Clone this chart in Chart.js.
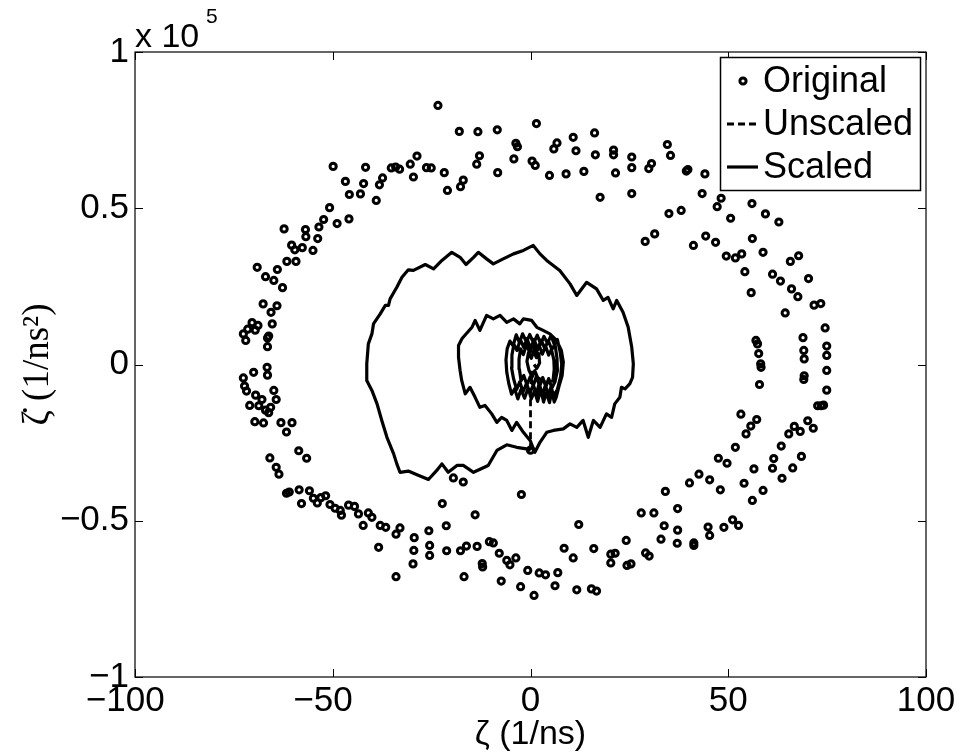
<!DOCTYPE html>
<html>
<head>
<meta charset="utf-8">
<title>Phase portrait</title>
<script src="https://cdn.jsdelivr.net/npm/chart.js@4.4.1/dist/chart.umd.min.js"></script>
<style>
  html, body { margin: 0; padding: 0; background: #fff; }
  #wrap { width: 959px; height: 756px; }
</style>
</head>
<body>
<div id="wrap"><canvas id="phase" width="959" height="756"></canvas></div>
<script>
// Sampled points: zeta (1/ns) against its rate (1/ns^2)
var origZeta = [
  -49.9, -41.7, -46.8, -42.2, -45.8, -43.0, -39.0, -38.2, -37.4, -35.2,
  -34.1, -33.1, -30.4, -28.7, -29.6, -26.3, -25.1, -50.8, -52.3, -48.9,
  -45.9, -53.5, -56.9, -62.3, -56.8, -53.8, -60.4, -59.6, -57.7, -55.0,
  -61.6, -59.3, -69.1, -64.0, -67.0, -64.9, -62.7, -67.6, -64.1, -65.6,
  -70.4, -68.9, -65.3, -72.6, -71.5, -69.6, -72.0, -66.2, -66.5, -66.5,
  -66.6, -66.5, -70.0, -72.6, -72.3, -71.8, -69.5, -67.9, -64.9, -64.3,
  -71.0, -68.7, -67.0, -66.2, -65.7, -69.7, -67.5, -63.1, -60.3, -61.7,
  -58.6, -56.6, -65.9, -64.3, -63.6, -61.7, -61.0, -58.5, -57.9, -55.9,
  -54.9, -53.9, -53.0, -51.8, -50.7, -49.4, -48.1, -47.8, -46.0, -44.5,
  -43.5, -41.0, -40.1, -42.3, -38.0, -36.6, -34.0, -33.0, -38.4, -29.4,
  -29.5, -29.7, -34.0, -25.7, -25.5, -25.5, -22.3, -21.3, -21.2, -17.7,
  -16.2, -16.8, -14.0, -19.5, -17.0, -13.5, -12.2, -12.1, -10.4, -9.4,
  -7.9, -6.0, -5.2, -3.7, -7.4, -0.7, 2.2, 3.8, 6.9, -2.5,
  0.9, 6.2, 11.7, 15.4, 16.7, 8.5, 10.8, 16.0, 24.2, 20.3,
  21.4, 20.3, 24.4, 25.4, -2.3, 12.2, 0.0, 28.0, 31.2, 29.1,
  30.0, 34.1, 37.2, 33.8, 37.2, 33.0, 37.1, 41.3, 41.3, 44.9,
  45.3, 48.9, 51.1, 52.6, 40.2, 42.6, 45.3, 48.0, 47.5, 49.7,
  51.8, 53.2, 54.5, 55.7, 57.2, 54.0, 56.1, 58.8, 56.5, 61.2,
  61.5, 63.4, 63.6, 66.3, 68.5, 65.3, 66.7, 68.2, 70.1, 71.5,
  72.6, 73.5, 74.1, 74.9, 57.9, 58.2, 58.3, 57.7, 69.2, 69.2,
  69.1, 74.9, 74.9, 69.1, 34.6, 35.4, 29.9, 30.6, 39.4, 39.8,
  44.1, 43.4, 35.0, 38.1, 29.0, 31.4, 47.2, 48.2, 50.6, 56.0,
  59.4, 62.8, 41.2, 44.3, 46.8, 49.5, 51.8, 53.4, 56.1, 58.8,
  54.2, 55.8, 61.2, 63.2, 65.7, 67.8, 70.3, 66.0, 67.6, 64.4,
  71.7, 73.4, 74.5, 68.9, 57.0, 57.4, 74.9, -23.4, -18.0, -13.3,
  -8.4, 1.5, -21.8, -21.0, -17.7, -17.0, -13.6, -12.9, -8.3, -4.2,
  -3.7, -3.3, 0.4, 1.2, 4.8, 5.9, 6.7, 9.0, 10.8, 11.5,
  13.5, 16.2, 16.4, 17.6, 21.0, 21.0, 21.5, 25.6, 25.6, 25.6
];
var origRate = [
  63400, 63100, 58600, 57900, 54400, 54600, 52500, 57500, 59700, 62900,
  63200, 62500, 64100, 66700, 60000, 63000, 62900, 50200, 46400, 45100,
  46600, 44000, 43200, 43400, 40900, 40300, 38200, 36700, 37400, 36500,
  33000, 33000, 31100, 30400, 28100, 26900, 24600, 19400, 18800, 16700,
  13400, 12500, 13000, 9800, 11300, 11000, 7700, 9100, 8500, 5700,
  -900, -3400, -2500, -4300, -6900, -8500, -9800, -11200, -8300, -11200,
  -13100, -13200, -14600, -15400, -13700, -18300, -18700, -18600, -18600, -21600,
  -27600, -30000, -29900, -32900, -35100, -41200, -40800, -40100, -44500, -40400,
  -42800, -44300, -42600, -42000, -44800, -46000, -46700, -48200, -45000, -45400,
  -47800, -47500, -48900, -51500, -51500, -52100, -54300, -52300, -58500, -55400,
  -59500, -63800, -67900, -53200, -57900, -61100, -44500, -51600, -59600, -59600,
  -58100, -67900, -48100, -36300, -37600, -58200, -63700, -64800, -56700, -57100,
  -60400, -62700, -64100, -61900, -69300, -65900, -66700, -67300, -66600, -71100,
  -73900, -70800, -72100, -71800, -72500, -58800, -61900, -58900, -56300, -60700,
  -60400, -63500, -64300, -63800, -41600, -51200, -27400, -47500, -47500, -60300,
  -61300, -40600, -46100, -51600, -53000, -55900, -57200, -57100, -57900, -52000,
  -54700, -52100, -49700, -51500, -37900, -35100, -36900, -40100, -30000, -31600,
  -26500, -15900, -22200, -19700, -17600, -38000, -43500, -40300, -33400, -33200,
  -30100, -26100, -36400, -33100, -29400, -22200, -19800, -21400, -18000, -20400,
  -13200, -13200, -13000, -8200, -6400, 200, -900, 3500, 1800, -3600,
  -4800, 2900, -1900, 4500, 70400, 66900, 62700, 64300, 61900, 62400,
  61000, 54700, 48300, 49300, 39400, 41800, 50500, 53200, 46800, 51500,
  48200, 45600, 38100, 41100, 39100, 34700, 34100, 35400, 40300, 35900,
  29700, 23000, 28900, 26700, 33000, 34800, 27500, 24200, 21700, 16500,
  19000, 19500, 11700, 8600, 7700, 6600, 5900, 82900, 74600, 74500,
  75100, 77100, 61400, 55700, 56900, 59000, 64100, 66800, 61400, 65800,
  70800, 69700, 65100, 63700, 60500, 69000, 70900, 61000, 72700, 68400,
  61800, 74100, 67100, 53500, 68600, 67100, 61300, 66400, 63000, 54700
];

// Unscaled trajectory
var unscaledZeta = [0.0, 0.0, 0.4];
var unscaledRate = [-27400, -8300, -2000];

// Scaled trajectory, spiralling in from the outer loop
var scaledZeta = [
  0.0, -1.0, -3.5, -6.0, -8.5, -10.7, -14.4, -17.0, -18.6, -20.8,
  -22.4, -23.7, -25.8, -28.7, -30.9, -33.0, -33.8, -34.6, -36.3, -37.6,
  -38.8, -40.1, -41.4, -41.4, -41.0, -40.1, -39.7, -38.0, -36.7, -35.9,
  -35.5, -33.8, -32.5, -30.9, -29.6, -26.6, -24.5, -22.4, -19.9, -17.8,
  -16.3, -14.4, -13.2, -11.1, -9.4, -6.9, -4.3, -1.8, 0.7, 2.4,
  4.1, 7.4, 10.0, 11.7, 14.2, 16.7, 18.4, 19.6, 20.9, 21.8,
  23.4, 24.7, 25.6, 26.0, 25.8, 25.1, 23.9, 23.0, 22.6, 21.3,
  20.5, 19.2, 17.6, 15.9, 14.6, 13.3, 11.7, 10.0, 8.3, 5.8,
  4.1, 2.4, 1.1,
  -0.1, -1.8, -3.5, -4.7, -6.0, -7.3, -8.5, -9.8, -11.5, -12.8,
  -14.0, -15.3, -16.5, -17.4, -17.8, -18.2, -18.2, -17.3, -14.8, -14.0,
  -12.8, -11.1, -9.4, -7.7, -6.0, -4.3, -2.7, -1.8, 0.3, 1.6,
  3.2, 4.9, 6.6, 7.8, 8.3, 8.0, 7.2, 6.5,
  6.0, 5.4, 4.8, 4.0, 3.3, 2.6, 1.8, 1.0, 0.2, -0.6,
  -1.5, -2.4, -3.2, -4.0, -4.8, -5.5, -6.0, -6.2, -5.9, -5.2,
  -4.4, -3.6, -2.8, -2.0, -1.0, -0.2, 0.8, 1.7, 2.6, 3.4,
  4.3, 5.2, 6.0, 6.8, 7.5, 7.9, 7.6, 6.8, 5.8,
  5.2, 4.5, 3.8, 3.0, 2.2, 1.5, 0.7, -0.2, -1.0, -1.9,
  -2.7, -3.5, -4.3, -4.8, -4.7, -4.2, -3.4, -2.6, -1.7, -0.9,
  0.0, 0.9, 1.8, 2.7, 3.6, 4.5, 5.4, 6.2, 6.7, 6.8, 6.2,
  5.4, 4.6, 3.9, 3.1, 2.3, 1.5, 0.7, -0.1, -0.9, -1.7,
  -2.4, -2.8, -2.9, -2.5, -1.8, -1.0, -0.2, 0.6, 1.4, 2.2,
  3.0, 3.8, 4.6, 5.3, 5.9, 6.0, 5.7, 4.0, 2.6,
  1.8, 1.1, 0.4, -0.4, -0.9, -0.5, 0.2, 0.8, 1.5, 2.1,
  2.3, 1.6, 0.9
];
var scaledRate = [
  -27400, -27000, -26500, -25700, -27500, -32300, -34500, -32300, -32300, -34500,
  -31800, -33900, -36800, -35300, -34100, -34500, -31800, -28600, -23300, -17900,
  -12600, -8300, -5100, 200, 6600, 9800, 13000, 16200, 18900, 18900,
  21000, 24700, 27900, 30300, 30100, 32000, 30600, 33300, 35900, 34300,
  32000, 34300, 35900, 33800, 32200, 33800, 35400, 36500, 38100, 35400,
  33300, 30100, 25800, 22100, 26300, 24200, 20500, 21500, 17800, 20500,
  16700, 11900, 5500, 200, -4100, -6200, -7800, -7300, -10500, -12600,
  -16900, -15800, -20100, -17900, -23300, -17900, -20100, -19000, -20600, -21100,
  -21700, -24900, -28100,
  -24300, -21700, -18500, -21100, -17900, -16900, -18500, -15800, -13100, -13700,
  -10500, -7300, -9400, -5100, -1900, 2300, 6100, 8300, 11900, 14100,
  10900, 15700, 14600, 15700, 13500, 14600, 13000, 14600, 14100, 11900,
  10900, 9800, 7700, 4500, 800, -3500, -7000, -10500,
  -12000, -8500, -12200, -9000, -12000, -8000, -11800, -8500, -11000, -7500,
  -10800, -8000, -11000, -7800, -9500, -6000, -2500, 1500, 5000, 7500,
  6000, 9500, 7000, 9800, 7200, 9600, 6800, 9400, 6500, 9000,
  6800, 9300, 6500, 8000, 4000, 0, -4000, -8000, -10000,
  -7000, -10000, -6500, -9800, -6000, -9500, -6500, -9200, -6000, -8800,
  -5500, -8000, -4500, -1000, 3000, 6500, 4500, 8000, 5500, 8300,
  5200, 8000, 5000, 7800, 5200, 7600, 4800, 6500, 2000, -2000, -5500,
  -7500, -4500, -7200, -4200, -7000, -3800, -6800, -4000, -6500, -3500,
  -5200, -1500, 1800, 5000, 3200, 6500, 3800, 6300, 3500, 6100,
  3300, 5900, 3000, 4800, 1500, -1500, -5200, -5800, -4800,
  -4200, -2000, -4000, -1800, 1000, 3800, 2000, 4200, 2200, 3500,
  500, -1200, 0
];

// Axis ranges and tick values
var zetaTicks = [-100, -50, 0, 50, 100];
var rateTicks = [-100000, -50000, 0, 50000, 100000];

function pairs(xs, ys) {
  return xs.map(function (x, i) { return { x: x, y: ys[i] }; });
}

function minus(s) {
  return String(s).replace('-', '\u2212');
}

var FONT = 'Liberation Sans, Arial, Helvetica, sans-serif';

// Box, inward ticks, exponent and legend
var frame = {
  id: 'frame',
  afterDraw: function (chart) {
    var ctx = chart.ctx, a = chart.chartArea;
    var xs = chart.scales.x, ys = chart.scales.y;
    ctx.save();
    ctx.strokeStyle = '#000';
    ctx.lineWidth = 1.2;
    ctx.strokeRect(a.left, a.top, a.right - a.left, a.bottom - a.top);
    ctx.lineWidth = 1;
    ctx.beginPath();
    zetaTicks.forEach(function (v) {
      var px = Math.round(xs.getPixelForValue(v)) + 0.5;
      ctx.moveTo(px, a.bottom); ctx.lineTo(px, a.bottom - 8);
      ctx.moveTo(px, a.top); ctx.lineTo(px, a.top + 8);
    });
    rateTicks.forEach(function (v) {
      var py = Math.round(ys.getPixelForValue(v)) + 0.5;
      ctx.moveTo(a.left, py); ctx.lineTo(a.left + 8, py);
      ctx.moveTo(a.right, py); ctx.lineTo(a.right - 8, py);
    });
    ctx.stroke();

    // exponent of the rate axis
    ctx.fillStyle = '#000';
    ctx.textBaseline = 'alphabetic';
    ctx.textAlign = 'left';
    ctx.font = '34px ' + FONT;
    ctx.fillText('x 10', a.left, 47);
    ctx.font = '21px ' + FONT;
    ctx.fillText('5', a.left + 71, 23);

    // legend
    var lx = 720.5, ly = 57.5, lw = 200, lh = 133;
    ctx.fillStyle = '#fff';
    ctx.fillRect(lx, ly, lw, lh);
    ctx.lineWidth = 1.5;
    ctx.strokeRect(lx, ly, lw, lh);
    var rows = [81, 124, 167];
    var sets = chart.data.datasets;
    ctx.font = '36px ' + FONT;
    ctx.textBaseline = 'middle';
    sets.forEach(function (ds, i) {
      var y = rows[i];
      ctx.strokeStyle = '#000';
      ctx.lineWidth = ds.borderWidth;
      if (i === 0) {
        ctx.beginPath();
        ctx.arc(743, y, ds.pointRadius, 0, Math.PI * 2);
        ctx.stroke();
      } else {
        ctx.setLineDash(ds.borderDash || []);
        ctx.beginPath();
        ctx.moveTo(727, y); ctx.lineTo(758, y);
        ctx.stroke();
        ctx.setLineDash([]);
      }
      ctx.fillStyle = '#000';
      ctx.fillText(ds.label, 763, y + 1);
    });
    ctx.restore();
  }
};

new Chart(document.getElementById('phase'), {
  type: 'scatter',
  data: {
    datasets: [
      {
        label: 'Original',
        data: pairs(origZeta, origRate),
        showLine: false,
        pointStyle: 'circle',
        pointRadius: 3.1,
        borderWidth: 3,
        borderColor: '#000',
        backgroundColor: 'rgba(0,0,0,0)',
        order: 3
      },
      {
        label: 'Unscaled',
        data: pairs(unscaledZeta, unscaledRate),
        showLine: true,
        pointRadius: 0,
        borderWidth: 2.8,
        borderDash: [7, 4],
        borderColor: '#000',
        order: 2
      },
      {
        label: 'Scaled',
        data: pairs(scaledZeta, scaledRate),
        showLine: true,
        pointRadius: 0,
        borderWidth: 3.2,
        borderColor: '#000',
        borderJoinStyle: 'round',
        order: 1
      }
    ]
  },
  options: {
    responsive: false,
    devicePixelRatio: 1,
    animation: false,
    events: [],
    layout: { padding: { top: 52, right: 33, left: 0, bottom: 0 } },
    plugins: { legend: { display: false }, tooltip: { enabled: false } },
    scales: {
      x: {
        type: 'linear',
        min: -100, max: 100,
        afterFit: function (s) { s.height = 79; },
        afterBuildTicks: function (s) { s.ticks = zetaTicks.map(function (v) { return { value: v }; }); },
        grid: { display: false, drawTicks: false },
        border: { display: false },
        ticks: {
          padding: 3,
          color: '#000',
          maxRotation: 0,
          autoSkip: false,
          font: { family: FONT, size: 35 },
          callback: function (v) { return v < 0 ? minus(v) + '  ' : String(v); }
        },
        title: {
          display: true,
          text: '\u03B6 (1/ns)',
          color: '#000',
          font: { family: FONT, size: 34 },
          padding: { top: 0, bottom: 1 }
        }
      },
      y: {
        type: 'linear',
        min: -100000, max: 100000,
        afterFit: function (s) { s.width = 135; },
        afterBuildTicks: function (s) { s.ticks = rateTicks.map(function (v) { return { value: v }; }); },
        grid: { display: false, drawTicks: false },
        border: { display: false },
        ticks: {
          padding: 6,
          color: '#000',
          autoSkip: false,
          font: { family: FONT, size: 35 },
          callback: function (v) { return minus(v / 100000); }
        },
        title: {
          display: true,
          text: '\u03B6\u0307 (1/ns\u00B2)',
          color: '#000',
          font: { family: 'Liberation Serif, DejaVu Serif, serif', size: 37 },
          padding: { top: 16, bottom: 0 }
        }
      }
    }
  },
  plugins: [frame]
});
</script>
</body>
</html>
